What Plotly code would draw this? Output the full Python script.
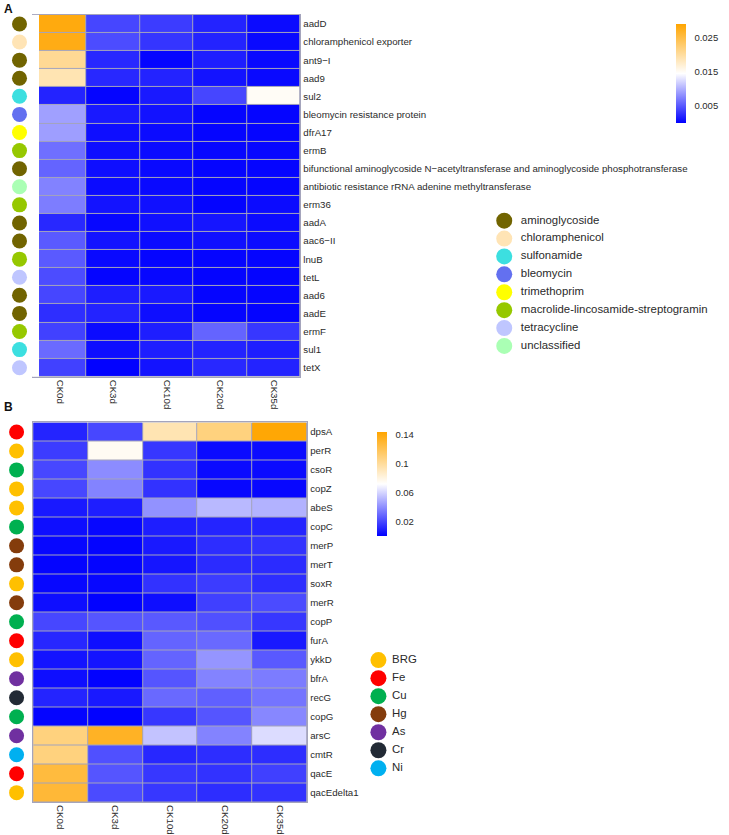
import plotly.graph_objects as go

W, H = 729, 835

samples = ["CK0d", "CK3d", "CK10d", "CK20d", "CK35d"]

# ---------- Panel A: antibiotic resistance genes ----------
genes_a = ["aadD", "chloramphenicol exporter", "ant9\u2212I", "aad9", "sul2",
           "bleomycin resistance protein", "dfrA17", "ermB",
           "bifunctional aminoglycoside N\u2212acetyltransferase and aminoglycoside phosphotransferase",
           "antibiotic resistance rRNA adenine methyltransferase", "erm36", "aadA",
           "aac6\u2212II", "lnuB", "tetL", "aad6", "aadE", "ermF", "sul1", "tetX"]
class_a = ["aminoglycoside", "chloramphenicol", "aminoglycoside", "aminoglycoside", "sulfonamide",
           "bleomycin", "trimethoprim", "macrolide-lincosamide-streptogramin", "aminoglycoside",
           "unclassified", "macrolide-lincosamide-streptogramin", "aminoglycoside", "aminoglycoside",
           "macrolide-lincosamide-streptogramin", "tetracycline", "aminoglycoside", "aminoglycoside",
           "macrolide-lincosamide-streptogramin", "sulfonamide", "tetracycline"]
vals_a = [
    [0.0282, 0.0040, 0.0034, 0.0020, 0.0006],
    [0.0278, 0.0043, 0.0030, 0.0020, 0.0005],
    [0.0206, 0.0023, 0.0003, 0.0017, 0.0005],
    [0.0189, 0.0023, 0.0020, 0.0011, 0.0005],
    [0.0020, 0.0003, 0.0014, 0.0040, 0.0150],
    [0.0091, 0.0014, 0.0010, 0.0003, 0.0003],
    [0.0090, 0.0008, 0.0006, 0.0003, 0.0003],
    [0.0063, 0.0008, 0.0006, 0.0004, 0.0004],
    [0.0057, 0.0008, 0.0005, 0.0003, 0.0003],
    [0.0074, 0.0006, 0.0005, 0.0003, 0.0003],
    [0.0071, 0.0011, 0.0009, 0.0002, 0.0006],
    [0.0023, 0.0004, 0.0009, 0.0012, 0.0006],
    [0.0051, 0.0011, 0.0006, 0.0009, 0.0007],
    [0.0051, 0.0005, 0.0003, 0.0003, 0.0003],
    [0.0043, 0.0003, 0.0004, 0.0002, 0.0002],
    [0.0040, 0.0017, 0.0014, 0.0003, 0.0003],
    [0.0026, 0.0020, 0.0008, 0.0003, 0.0002],
    [0.0037, 0.0006, 0.0017, 0.0057, 0.0031],
    [0.0060, 0.0008, 0.0017, 0.0020, 0.0017],
    [0.0037, 0.0001, 0.0011, 0.0023, 0.0020],
]
legend_a = ["aminoglycoside", "chloramphenicol", "sulfonamide", "bleomycin", "trimethoprim",
            "macrolide-lincosamide-streptogramin", "tetracycline", "unclassified"]
legend_a_colors = ["#716400", "#FFE4B5", "#3CDFE0", "#6370F0", "#FFFF00",
                   "#96C800", "#BFC6FF", "#AAFFB4"]
cbar_a_ticks = [0.005, 0.015, 0.025]
zmax_a = 0.029

# ---------- Panel B: metal / biocide resistance genes ----------
genes_b = ["dpsA", "perR", "csoR", "copZ", "abeS", "copC", "merP", "merT", "soxR", "merR",
           "copP", "furA", "ykkD", "bfrA", "recG", "copG", "arsC", "cmtR", "qacE", "qacEdelta1"]
class_b = ["Fe", "BRG", "Cu", "BRG", "BRG", "Cu", "Hg", "Hg", "BRG", "Hg",
           "Cu", "Fe", "BRG", "As", "Cr", "Cu", "As", "Ni", "Fe", "BRG"]
vals_b = [
    [0.010, 0.020, 0.0935, 0.108, 0.142],
    [0.017, 0.075, 0.0155, 0.003, 0.003],
    [0.020, 0.0395, 0.014, 0.003, 0.003],
    [0.020, 0.037, 0.014, 0.002, 0.002],
    [0.007, 0.0085, 0.041, 0.052, 0.050],
    [0.004, 0.002, 0.0085, 0.010, 0.010],
    [0.002, 0.001, 0.007, 0.0127, 0.014],
    [0.001, 0.001, 0.006, 0.012, 0.012],
    [0.002, 0.002, 0.014, 0.017, 0.0127],
    [0.004, 0.0005, 0.004, 0.018, 0.021],
    [0.020, 0.024, 0.025, 0.0225, 0.0155],
    [0.011, 0.004, 0.028, 0.0296, 0.007],
    [0.0056, 0.0056, 0.028, 0.042, 0.025],
    [0.004, 0.0005, 0.024, 0.037, 0.035],
    [0.010, 0.007, 0.0296, 0.027, 0.0325],
    [0.0014, 0.0005, 0.0155, 0.024, 0.038],
    [0.108, 0.133, 0.055, 0.037, 0.062],
    [0.108, 0.0225, 0.011, 0.0127, 0.0127],
    [0.126, 0.024, 0.0155, 0.014, 0.018],
    [0.128, 0.021, 0.0155, 0.0127, 0.014],
]
legend_b = ["BRG", "Fe", "Cu", "Hg", "As", "Cr", "Ni"]
legend_b_colors = ["#FFC000", "#FF0000", "#00B050", "#843C0C", "#7030A0", "#222A35", "#00B0F0"]
cbar_b_ticks = [0.02, 0.06, 0.1, 0.14]
cbar_b_text = ["0.02", "0.06", "0.1", "0.14"]
zmax_b = 0.1435

# ---------- helpers ----------
def px_x(p):
    return p / W

def px_y(p):
    return 1 - p / H

FONT = "Liberation Sans, Arial, sans-serif"
GRID = "#A4A4BC"
TXT = "#2a2a2a"
scale = [[0, "#0000FF"], [0.5, "#FFFFFF"], [1, "#FFA500"]]

map_a = dict(zip(legend_a, legend_a_colors))
map_b = dict(zip(legend_b, legend_b_colors))

fig = go.Figure()

cb_common = dict(thickness=10, outlinewidth=0, ticks="outside", ticklen=7,
                 tickcolor="rgba(0,0,0,0)",
                 tickfont=dict(size=9.5, color=TXT, family=FONT), lenmode="pixels",
                 xanchor="left", yanchor="top")

# Heatmap A
fig.add_trace(go.Heatmap(
    z=vals_a, x=samples, y=genes_a, colorscale=scale, zmin=0, zmax=zmax_a,
    xgap=1, ygap=1, xaxis="x", yaxis="y", hoverinfo="x+y+z",
    colorbar=dict(x=px_x(683), y=px_y(14), len=119,
                  tickvals=cbar_a_ticks, ticktext=[str(t) for t in cbar_a_ticks], **cb_common)))

# Heatmap B
fig.add_trace(go.Heatmap(
    z=vals_b, x=samples, y=genes_b, colorscale=scale, zmin=0, zmax=zmax_b,
    xgap=1, ygap=1, xaxis="x2", yaxis="y2", hoverinfo="x+y+z",
    colorbar=dict(x=px_x(376), y=px_y(425), len=124,
                  tickvals=cbar_b_ticks, ticktext=cbar_b_text, **cb_common)))

# Row annotation circles
fig.add_trace(go.Scatter(
    x=[0.5] * len(genes_a), y=genes_a, mode="markers", xaxis="x3", yaxis="y",
    marker=dict(size=15, color=[map_a[c] for c in class_a]),
    text=class_a, hoverinfo="text", showlegend=False))
fig.add_trace(go.Scatter(
    x=[0.5] * len(genes_b), y=genes_b, mode="markers", xaxis="x4", yaxis="y2",
    marker=dict(size=15, color=[map_b[c] for c in class_b]),
    text=class_b, hoverinfo="text", showlegend=False))

# Category keys (x axis in pixel units; markers at 0, labels shifted right)
LEG_A_DX, LEG_B_DX = 17, 14
fig.add_trace(go.Scatter(
    x=[0] * len(legend_a), y=legend_a, mode="markers", xaxis="x5", yaxis="y5",
    marker=dict(size=16, color=legend_a_colors), text=legend_a,
    hoverinfo="text", showlegend=False, cliponaxis=False))
fig.add_trace(go.Scatter(
    x=[LEG_A_DX] * len(legend_a), y=legend_a, mode="text", xaxis="x5", yaxis="y5",
    text=legend_a, textposition="middle right",
    textfont=dict(size=11.4, color=TXT, family=FONT),
    hoverinfo="skip", showlegend=False, cliponaxis=False))
fig.add_trace(go.Scatter(
    x=[0] * len(legend_b), y=legend_b, mode="markers", xaxis="x6", yaxis="y6",
    marker=dict(size=16, color=legend_b_colors), text=legend_b,
    hoverinfo="text", showlegend=False, cliponaxis=False))
fig.add_trace(go.Scatter(
    x=[LEG_B_DX] * len(legend_b), y=legend_b, mode="text", xaxis="x6", yaxis="y6",
    text=legend_b, textposition="middle right",
    textfont=dict(size=11.4, color=TXT, family=FONT),
    hoverinfo="skip", showlegend=False, cliponaxis=False))

tickfont = dict(size=9.7, color=TXT, family=FONT)
hidden = dict(visible=False, showgrid=False, zeroline=False, fixedrange=True)
na, nb, ns = len(genes_a), len(genes_b), len(samples)

fig.update_layout(
    width=W, height=H, margin=dict(l=0, r=0, t=0, b=0),
    paper_bgcolor="white", plot_bgcolor="white", showlegend=False,
    font=dict(family=FONT),
    xaxis=dict(domain=[px_x(34), px_x(308)], anchor="y", tickangle=90, tickfont=tickfont,
               range=[-0.5, ns - 0.5], ticks="", showline=True, linecolor=GRID, mirror=True,
               showgrid=False, zeroline=False),
    yaxis=dict(domain=[px_y(379), px_y(15)], anchor="x", side="right",
               range=[na - 0.5, -0.5], tickfont=tickfont, ticks="", showline=True,
               linecolor=GRID, mirror=True, showgrid=False, zeroline=False),
    xaxis2=dict(domain=[px_x(34), px_x(315)], anchor="y2", tickangle=90, tickfont=tickfont,
                range=[-0.5, ns - 0.5], ticks="", showline=True, linecolor=GRID, mirror=True,
                showgrid=False, zeroline=False),
    yaxis2=dict(domain=[px_y(807), px_y(425)], anchor="x2", side="right",
                range=[nb - 0.5, -0.5], tickfont=tickfont, ticks="", showline=True,
                linecolor=GRID, mirror=True, showgrid=False, zeroline=False),
    xaxis3=dict(domain=[0, px_x(40)], range=[0, 1], anchor="y", **hidden),
    xaxis4=dict(domain=[0, px_x(34)], range=[0, 1], anchor="y2", **hidden),
    xaxis5=dict(domain=[px_x(517), px_x(720)], range=[0, 203], anchor="y5", **hidden),
    yaxis5=dict(domain=[px_y(357), px_y(213)], anchor="x5",
                range=[len(legend_a) - 0.5, -0.5], **hidden),
    xaxis6=dict(domain=[px_x(388), px_x(450)], range=[0, 62], anchor="y6", **hidden),
    yaxis6=dict(domain=[px_y(782), px_y(655)], anchor="x6",
                range=[len(legend_b) - 0.5, -0.5], **hidden),
    shapes=[
        dict(type="rect", xref="x domain", yref="y domain", x0=0, x1=1, y0=0, y1=1,
             fillcolor=GRID, line=dict(width=0), layer="below"),
        dict(type="rect", xref="x2 domain", yref="y2 domain", x0=0, x1=1, y0=0, y1=1,
             fillcolor=GRID, line=dict(width=0), layer="below"),
    ],
    annotations=[
        dict(text="<b>A</b>", x=px_x(2), y=px_y(0), xref="paper", yref="paper",
             xanchor="left", yanchor="top", showarrow=False,
             font=dict(size=12, color="#111111", family=FONT)),
        dict(text="<b>B</b>", x=px_x(2), y=px_y(400), xref="paper", yref="paper",
             xanchor="left", yanchor="top", showarrow=False,
             font=dict(size=12, color="#111111", family=FONT)),
    ],
)

fig.write_html("out.html")
